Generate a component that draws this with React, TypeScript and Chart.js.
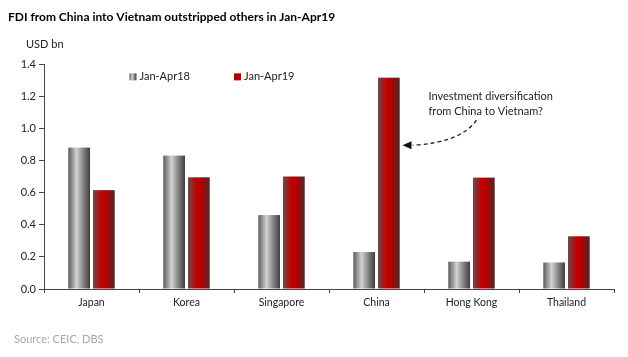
import React, { useEffect, useRef } from "react";
import { Chart, registerables } from "chart.js";

Chart.register(...registerables);

const categories = ["Japan", "Korea", "Singapore", "China", "Hong Kong", "Thailand"];
const seriesLabels = ["Jan-Apr18", "Jan-Apr19"];
const values2018 = [0.88, 0.83, 0.46, 0.23, 0.17, 0.165];
const values2019 = [0.615, 0.695, 0.70, 1.315, 0.693, 0.328];
const titleText = "FDI from China into Vietnam outstripped others in Jan-Apr19";
const unitText = "USD bn";
const sourceText = "Source: CEIC, DBS";
const noteLines = ["Investment diversification", "from China to Vietnam?"];

const FONT = "Lato, 'Open Sans', sans-serif";

function grayGrad(ctx: CanvasRenderingContext2D, x0: number, x1: number) {
  const g = ctx.createLinearGradient(x0, 0, x1, 0);
  g.addColorStop(0, "#5c5c5c");
  g.addColorStop(0.38, "#d2d2d2");
  g.addColorStop(0.72, "#7c7c7c");
  g.addColorStop(1, "#3e3e3e");
  return g;
}
function redGrad(ctx: CanvasRenderingContext2D, x0: number, x1: number) {
  const g = ctx.createLinearGradient(x0, 0, x1, 0);
  g.addColorStop(0, "#6a4a4a");
  g.addColorStop(0.4, "#c20000");
  g.addColorStop(0.62, "#b50000");
  g.addColorStop(1, "#4a2a2a");
  return g;
}

const gradientBars = {
  id: "gradientBars",
  beforeDatasetDraw(chart: any, args: any) {
    const ctx = chart.ctx as CanvasRenderingContext2D;
    const meta = args.meta;
    ctx.save();
    meta.data.forEach((el: any) => {
      const { x, y, base, width } = el.getProps(["x", "y", "base", "width"], true);
      const x0 = x - width / 2;
      const x1 = x + width / 2;
      ctx.fillStyle = args.index === 0 ? grayGrad(ctx, x0, x1) : redGrad(ctx, x0, x1);
      ctx.fillRect(x0, y, width, base - y);
    });
    ctx.restore();
    return false;
  },
};

const decorations = {
  id: "decorations",
  afterDraw(chart: any) {
    const ctx = chart.ctx as CanvasRenderingContext2D;
    const xs = chart.scales.x;
    const ys = chart.scales.y;
    ctx.save();
    // title
    ctx.fillStyle = "#000";
    ctx.font = `bold 12px ${FONT}`;
    ctx.textBaseline = "middle";
    ctx.textAlign = "left";
    ctx.fillText(titleText, 8, 17);
    // unit
    ctx.fillStyle = "#222";
    ctx.font = `11px ${FONT}`;
    ctx.fillText(unitText, 26, 44);
    // source
    ctx.fillStyle = "#a6a6a6";
    ctx.font = `11px ${FONT}`;
    ctx.fillText(sourceText, 14, 339);

    // legend
    const ly = ys.getPixelForValue(1.32);
    const lx = [xs.getPixelForValue(0.4), xs.getPixelForValue(1.5)];
    ctx.font = `11px ${FONT}`;
    seriesLabels.forEach((lab, i) => {
      const mx = lx[i];
      ctx.fillStyle = i === 0 ? grayGrad(ctx, mx, mx + 7) : redGrad(ctx, mx, mx + 7);
      if (i === 1) ctx.fillStyle = "#b00000";
      ctx.fillRect(mx, ly - 3.5, 7, 7);
      ctx.fillStyle = "#222";
      ctx.fillText(lab, mx + 10, ly);
    });

    // annotation
    const cx = xs.getPixelForValue(3);
    ctx.fillStyle = "#222";
    ctx.font = `11px ${FONT}`;
    const ty = ys.getPixelForValue(1.2);
    ctx.fillText(noteLines[0], cx + 52, ty);
    ctx.fillText(noteLines[1], cx + 52, ty + 15);

    const sx = cx + 100, sy = ys.getPixelForValue(1.05);
    const ex = cx + 36, ey = ys.getPixelForValue(0.895);
    const qx = cx + 84, qy = ys.getPixelForValue(0.91);
    ctx.strokeStyle = "#222";
    ctx.lineWidth = 1.3;
    ctx.setLineDash([4, 3]);
    ctx.beginPath();
    ctx.moveTo(sx, sy);
    ctx.quadraticCurveTo(qx, qy, ex, ey);
    ctx.stroke();
    ctx.setLineDash([]);
    // arrow head
    const ang = Math.atan2(ey - qy, ex - qx);
    const tipX = ex - 5 + Math.cos(ang) * 2, tipY = ey + Math.sin(ang) * 2;
    ctx.fillStyle = "#111";
    ctx.beginPath();
    ctx.moveTo(tipX - 3, tipY);
    ctx.lineTo(tipX + 6, tipY - 4);
    ctx.lineTo(tipX + 6, tipY + 4);
    ctx.closePath();
    ctx.fill();
    ctx.restore();
  },
};

export default function App() {
  const ref = useRef<HTMLCanvasElement>(null);
  useEffect(() => {
    if (!ref.current) return;
    const chart = new Chart(ref.current, {
      type: "bar",
      data: {
        labels: categories,
        datasets: [
          { label: seriesLabels[0], data: values2018, backgroundColor: "#999" },
          { label: seriesLabels[1], data: values2019, backgroundColor: "#c00000" },
        ],
      },
      options: {
        animation: false,
        responsive: false,
        maintainAspectRatio: false,
        datasets: { bar: { categoryPercentage: 0.52, barPercentage: 0.88 } },
        layout: { padding: { left: 0, right: 14, top: 64, bottom: 0 } },
        plugins: {
          legend: { display: false },
          title: { display: false },
          tooltip: { enabled: false },
        },
        scales: {
          x: {
            grid: {
              display: true,
              drawOnChartArea: false,
              drawTicks: true,
              tickLength: 4,
              color: "#444",
              offset: true,
            },
            border: { display: true, color: "#444", width: 1 },
            ticks: { color: "#222", font: { family: FONT, size: 10.5 }, padding: 3 },
            afterFit(scale: any) {
              scale.height = 68;
            },
          },
          y: {
            min: 0,
            max: 1.4,
            ticks: {
              stepSize: 0.2,
              color: "#222",
              font: { family: FONT, size: 11 },
              padding: 3,
              callback: (v: any) => Number(v).toFixed(1),
            },
            grid: {
              display: true,
              drawOnChartArea: false,
              drawTicks: true,
              tickLength: 5,
              color: "#444",
            },
            border: { display: true, color: "#444", width: 1 },
            afterFit(scale: any) {
              scale.width = 44;
            },
          },
        },
      },
      plugins: [gradientBars, decorations],
    });
    return () => chart.destroy();
  }, []);
  return (
    <div style={{ position: "fixed", left: 0, top: 0, width: 628, height: 357, background: "#fff" }}>
      <canvas ref={ref} width={628} height={357} style={{ width: 628, height: 357 }} />
    </div>
  );
}
